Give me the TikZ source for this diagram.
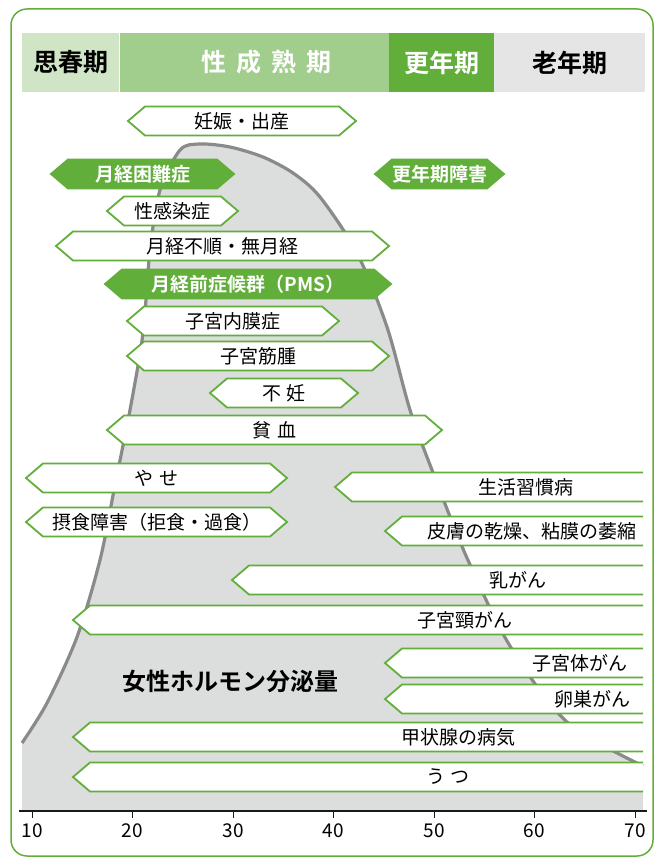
\documentclass[tikz,border=0pt]{standalone}
\usepackage{fontspec}
\setmainfont{Noto Sans CJK JP}[BoldFont={Noto Sans CJK JP Bold}]
\usetikzlibrary{positioning}
\definecolor{leaf}{RGB}{98,174,59}
\definecolor{paleleaf}{RGB}{207,229,197}
\definecolor{midleaf}{RGB}{161,206,140}
\definecolor{palegray}{RGB}{229,229,229}
\definecolor{hormonefill}{RGB}{220,221,221}
\definecolor{hormoneline}{RGB}{138,138,138}
\tikzset{
  lbox/.style={draw=leaf, fill=white, line width=1.8pt},
  gbox/.style={draw=leaf, fill=leaf, line width=1.8pt},
  lbox text/.style={font=\fontsize{19}{19}\selectfont},
  gbox text/.style={font=\bfseries\fontsize{19}{19}\selectfont, text=white},
  band/.style={minimum height=59pt, inner sep=0pt, font=\bfseries\fontsize{25}{25}\selectfont},
  axisline/.style={draw=black!90, line width=1.8pt},
}
% [style]{name}{left tip}{right tip}{y}{text}
\newcommand{\hexbox}[6][lbox]{%
  \draw[#1] (#3,#5) -- (#3+17,#5-14.5) -- (#4-17,#5-14.5) -- (#4,#5)
    -- (#4-17,#5+14.5) -- (#3+17,#5+14.5) -- cycle;
  \node[#1 text] (#2) at ({(#3+#4)/2},#5) {#6};}
% {name}{left tip}{y}{text x}{text}
\newcommand{\leftbox}[5]{%
  \draw[lbox] (643,#3-14.5) -- (#2+17,#3-14.5) -- (#2,#3) -- (#2+17,#3+14.5) -- (643,#3+14.5);
  \node[lbox text] (#1) at (#4,#3) {#5};}

\begin{document}
\begin{tikzpicture}[x=1pt,y=-1pt]
    \useasboundingbox (0,0) rectangle (660,859);
    \draw[leaf, line width=1.5pt, rounded corners=16pt] (11,9) rectangle (653,856);
    % life stages
    \node[band, fill=paleleaf, minimum width=97pt, anchor=west] (puberty) at (22,62.5) {思春期};
    \node[band, fill=midleaf, minimum width=269pt, text=white, right=0pt of puberty] (mature)
      {\hspace*{24pt}性\hspace{10pt}成\hspace{10pt}熟\hspace{10pt}期};
    \node[band, fill=leaf, minimum width=105pt, text=white, right=0pt of mature] (climact) {更年期};
    \node[band, fill=palegray, minimum width=151pt, right=0pt of climact] (senior) {老年期};
    % hormone curve
    \fill[hormonefill] (22,811) -- plot[smooth] coordinates {(22,743) (47,703) (77,637) (100,560)
      (115,485) (130,410) (143,333) (150,250) (160,190) (180,150) (200,144) (230,147) (263,157)
      (293,173) (320,197) (357,253) (387,327) (410,410) (432,470) (467,558) (510,646) (567,722)
      (643,766)} -- (643,811) -- cycle;
    \draw[hormoneline, line width=3.2pt] plot[smooth] coordinates {(22,743) (47,703) (77,637) (100,560)
      (115,485) (130,410) (143,333) (150,250) (160,190) (180,150) (200,144) (230,147) (263,157)
      (293,173) (320,197) (357,253) (387,327) (410,410) (432,470) (467,558) (510,646) (567,722)
      (643,766)};
    \node[font=\bfseries\fontsize{24}{24}\selectfont] (hormone) at (230,681) {女性ホルモン分泌量};
    % diseases
    \hexbox{preg}{128}{356}{121}{妊娠・出産}
    \hexbox[gbox]{dysmen}{51}{234}{174}{月経困難症}
    \hexbox[gbox]{climsyn}{375}{504}{174}{更年期障害}
    \hexbox{sti}{107}{238}{211}{性感染症}
    \hexbox{irreg}{56}{389}{246}{月経不順・無月経}
    \hexbox[gbox]{pms}{105}{391}{284}{月経前症候群（PMS）}
    \hexbox{endo}{127}{339}{321}{子宮内膜症}
    \hexbox{myoma}{127}{389}{356}{子宮筋腫}
    \hexbox{infert}{210}{358}{393}{不\hspace{6pt}妊}
    \hexbox{anemia}{107}{442}{430}{貧\hspace{6pt}血}
    \hexbox{thin}{26}{287}{478}{や\hspace{6pt}せ}
    \hexbox{eating}{26}{287}{522}{摂食障害（拒食・過食）}
    \leftbox{lifestyle}{335}{487}{526}{生活習慣病}
    \leftbox{skin}{385}{531}{532}{皮膚の乾燥、粘膜の萎縮}
    \leftbox{breast}{232}{580}{518}{乳がん}
    \leftbox{cervix}{73}{620}{465}{子宮頸がん}
    \leftbox{uterus}{385}{663}{580}{子宮体がん}
    \leftbox{ovary}{385}{699}{592}{卵巣がん}
    \leftbox{thyroid}{73}{737}{458}{甲状腺の病気}
    \leftbox{depr}{73}{777}{448}{う\hspace{6pt}つ}
    % age axis
    \draw[axisline] (19,811) -- (647,811);
    \foreach \a in {10,20,...,70} {
      \draw[axisline, line width=1pt] ({32+(\a-10)*10.05},811) -- ++(0,7);
      \node[font=\fontsize{19}{19}\selectfont] (t\a) at ({32+(\a-10)*10.05},831) {\a};
    }
  \end{tikzpicture}
\end{document}
